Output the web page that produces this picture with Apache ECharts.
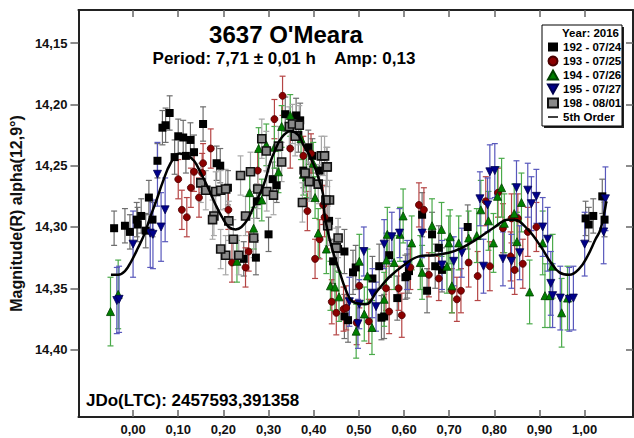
<!DOCTYPE html>
<html>
<head>
<meta charset="utf-8">
<script src="https://cdn.jsdelivr.net/npm/echarts@6/dist/echarts.min.js"></script>
<style>
  html, body { margin: 0; padding: 0; background: #fff; }
  #main { width: 634px; height: 438px; }
</style>
</head>
<body>
<div id="main"></div>
<script>
// tick labels
const xTicks = [0, 0.1, 0.2, 0.3, 0.4, 0.5, 0.6, 0.7, 0.8, 0.9, 1.0];
const yTicks = [14.15, 14.20, 14.25, 14.30, 14.35, 14.40];

// [phase, magnitude, error]
const d192 = [
  [0.081, 14.207, 0.014], [0.072, 14.217, 0.014], [0.065, 14.219, 0.014], [0.100, 14.226, 0.014],
  [0.111, 14.227, 0.014], [0.127, 14.229, 0.014], [0.155, 14.216, 0.014], [0.054, 14.246, 0.014],
  [0.092, 14.243, 0.014], [0.117, 14.242, 0.014], [0.135, 14.239, 0.014], [0.185, 14.248, 0.014],
  [0.193, 14.250, 0.014], [0.035, 14.276, 0.014], [0.018, 14.291, 0.014], [0.008, 14.294, 0.014],
  [0.010, 14.298, 0.014], [0.028, 14.303, 0.014], [0.043, 14.294, 0.014], [-0.042, 14.301, 0.014],
  [-0.018, 14.299, 0.014], [-0.007, 14.304, 0.014], [0.300, 14.306, 0.014], [0.272, 14.325, 0.014],
  [0.245, 14.326, 0.014], [0.337, 14.208, 0.014], [0.361, 14.209, 0.014], [0.370, 14.213, 0.014],
  [0.366, 14.225, 0.014], [0.388, 14.235, 0.014], [0.397, 14.242, 0.014], [0.377, 14.254, 0.014],
  [0.413, 14.254, 0.014], [0.394, 14.263, 0.014], [0.309, 14.261, 0.014], [0.318, 14.266, 0.014],
  [0.210, 14.268, 0.014], [0.274, 14.279, 0.014], [0.434, 14.295, 0.016], [0.454, 14.318, 0.018],
  [0.468, 14.320, 0.018], [0.443, 14.328, 0.018], [0.487, 14.337, 0.018], [0.493, 14.333, 0.018],
  [0.530, 14.342, 0.018], [0.545, 14.332, 0.018], [0.556, 14.373, 0.018], [0.550, 14.374, 0.018],
  [0.468, 14.373, 0.018], [0.476, 14.376, 0.018], [0.585, 14.358, 0.018], [0.607, 14.340, 0.018],
  [0.611, 14.336, 0.018], [0.651, 14.352, 0.018], [0.669, 14.332, 0.018], [0.684, 14.335, 0.018],
  [0.662, 14.306, 0.018], [0.567, 14.323, 0.018], [0.603, 14.341, 0.018], [0.677, 14.317, 0.018],
  [0.640, 14.290, 0.018], [0.741, 14.300, 0.018], [1.039, 14.275, 0.014], [1.019, 14.291, 0.014],
  [1.002, 14.293, 0.014], [1.009, 14.298, 0.014], [1.044, 14.294, 0.014]
];
const d193 = [
  [0.172, 14.236, 0.016], [0.155, 14.248, 0.016], [0.135, 14.255, 0.016], [0.153, 14.256, 0.016],
  [0.100, 14.261, 0.016], [0.128, 14.268, 0.016], [0.146, 14.276, 0.016], [0.108, 14.286, 0.016],
  [0.119, 14.292, 0.016], [0.331, 14.193, 0.016], [0.313, 14.212, 0.016], [0.276, 14.254, 0.016],
  [0.348, 14.236, 0.016], [0.377, 14.242, 0.016], [0.394, 14.240, 0.016], [0.211, 14.286, 0.016],
  [0.386, 14.287, 0.016], [0.421, 14.282, 0.016], [0.424, 14.292, 0.016], [0.413, 14.310, 0.016],
  [0.403, 14.326, 0.016], [0.256, 14.320, 0.016], [0.249, 14.333, 0.016], [0.219, 14.329, 0.016],
  [0.440, 14.361, 0.018], [0.450, 14.370, 0.018], [0.466, 14.367, 0.018], [0.495, 14.378, 0.018],
  [0.501, 14.348, 0.018], [0.430, 14.300, 0.018], [0.472, 14.366, 0.018], [0.522, 14.377, 0.018],
  [0.560, 14.350, 0.018], [0.567, 14.369, 0.018], [0.588, 14.350, 0.018], [0.595, 14.372, 0.018],
  [0.614, 14.333, 0.018], [0.655, 14.339, 0.018], [0.677, 14.342, 0.018], [0.706, 14.352, 0.018],
  [0.717, 14.359, 0.018], [0.726, 14.352, 0.018], [0.743, 14.329, 0.020], [0.763, 14.340, 0.020],
  [0.790, 14.332, 0.020], [0.819, 14.301, 0.020], [0.836, 14.324, 0.020], [0.845, 14.335, 0.020],
  [0.863, 14.330, 0.020], [0.633, 14.282, 0.018], [0.644, 14.286, 0.018], [0.781, 14.279, 0.020],
  [0.808, 14.272, 0.020], [0.838, 14.293, 0.020], [0.852, 14.293, 0.020], [0.874, 14.304, 0.020],
  [0.893, 14.300, 0.020]
];
const d194 = [
  [-0.050, 14.369, 0.028], [-0.033, 14.355, 0.028], [0.278, 14.236, 0.017], [0.295, 14.233, 0.017],
  [0.313, 14.235, 0.017], [0.329, 14.218, 0.017], [0.348, 14.209, 0.017], [0.372, 14.228, 0.017],
  [0.399, 14.248, 0.017], [0.322, 14.255, 0.017], [0.258, 14.272, 0.017], [0.285, 14.278, 0.017],
  [0.403, 14.276, 0.017], [0.377, 14.257, 0.017], [0.384, 14.259, 0.017], [0.267, 14.301, 0.017],
  [0.230, 14.328, 0.017], [0.428, 14.318, 0.020], [0.410, 14.305, 0.020], [0.437, 14.348, 0.020],
  [0.447, 14.349, 0.020], [0.456, 14.357, 0.020], [0.494, 14.385, 0.022], [0.501, 14.328, 0.022],
  [0.512, 14.371, 0.022], [0.529, 14.382, 0.022], [0.519, 14.340, 0.022], [0.556, 14.359, 0.022],
  [0.563, 14.306, 0.022], [0.578, 14.329, 0.022], [0.591, 14.306, 0.022], [0.617, 14.313, 0.022],
  [0.640, 14.337, 0.022], [0.683, 14.302, 0.022], [0.699, 14.313, 0.022], [0.721, 14.313, 0.022],
  [0.743, 14.309, 0.022], [0.798, 14.313, 0.024], [0.822, 14.297, 0.024], [0.878, 14.353, 0.026],
  [0.912, 14.356, 0.026], [0.923, 14.356, 0.026], [0.949, 14.370, 0.028], [0.962, 14.358, 0.026],
  [0.598, 14.291, 0.022], [0.770, 14.286, 0.024], [0.807, 14.275, 0.024], [0.816, 14.268, 0.024],
  [0.844, 14.289, 0.024], [0.860, 14.280, 0.024], [0.929, 14.332, 0.026], [0.907, 14.313, 0.026],
  [0.850, 14.312, 0.024], [0.662, 14.299, 0.022], [0.702, 14.308, 0.022], [0.761, 14.307, 0.022],
  [0.787, 14.295, 0.024], [0.561, 14.327, 0.022], [0.636, 14.329, 0.022], [0.695, 14.332, 0.022],
  [0.706, 14.348, 0.022]
];
const d195 = [
  [0.054, 14.257, 0.026], [0.071, 14.286, 0.026], [0.000, 14.314, 0.027], [0.038, 14.305, 0.028],
  [0.044, 14.306, 0.028], [0.062, 14.300, 0.028], [-0.036, 14.360, 0.027], [-0.031, 14.359, 0.027],
  [0.479, 14.361, 0.020], [0.501, 14.363, 0.020], [0.498, 14.379, 0.020], [0.511, 14.320, 0.020],
  [0.530, 14.354, 0.020], [0.538, 14.365, 0.020], [0.573, 14.308, 0.020], [0.590, 14.305, 0.020],
  [0.556, 14.314, 0.020], [0.607, 14.331, 0.020], [0.684, 14.331, 0.020], [0.710, 14.328, 0.020],
  [0.728, 14.321, 0.020], [0.776, 14.332, 0.022], [0.819, 14.326, 0.022], [0.838, 14.328, 0.022],
  [0.856, 14.321, 0.022], [0.918, 14.310, 0.026], [0.925, 14.346, 0.026], [0.929, 14.356, 0.026],
  [0.946, 14.358, 0.026], [0.966, 14.359, 0.026], [0.975, 14.358, 0.026], [1.000, 14.314, 0.026],
  [1.042, 14.304, 0.026], [0.790, 14.255, 0.022], [0.801, 14.254, 0.022], [0.768, 14.277, 0.022],
  [0.785, 14.282, 0.022], [0.849, 14.268, 0.022], [0.874, 14.270, 0.022], [0.893, 14.275, 0.022],
  [0.882, 14.281, 0.022], [0.907, 14.300, 0.024], [1.046, 14.277, 0.026], [0.640, 14.305, 0.020]
];
const d198 = [
  [0.150, 14.264, 0.016], [0.161, 14.270, 0.016], [0.183, 14.271, 0.016], [0.179, 14.291, 0.016],
  [0.194, 14.270, 0.016], [0.205, 14.269, 0.016], [0.238, 14.258, 0.016], [0.260, 14.255, 0.016],
  [0.285, 14.228, 0.016], [0.295, 14.238, 0.016], [0.322, 14.234, 0.016], [0.346, 14.218, 0.016],
  [0.353, 14.216, 0.016], [0.359, 14.226, 0.016], [0.368, 14.217, 0.016], [0.381, 14.256, 0.016],
  [0.390, 14.263, 0.016], [0.329, 14.247, 0.016], [0.417, 14.242, 0.016], [0.428, 14.251, 0.016],
  [0.410, 14.265, 0.016], [0.435, 14.278, 0.016], [0.375, 14.280, 0.016], [0.276, 14.269, 0.016],
  [0.296, 14.271, 0.016], [0.311, 14.274, 0.016], [0.249, 14.291, 0.016], [0.205, 14.323, 0.016],
  [0.234, 14.323, 0.016], [0.222, 14.310, 0.016], [0.267, 14.309, 0.016], [0.194, 14.318, 0.016],
  [0.212, 14.295, 0.016], [0.176, 14.294, 0.016], [0.454, 14.309, 0.016], [0.450, 14.317, 0.016],
  [0.431, 14.299, 0.016], [0.427, 14.278, 0.016], [0.424, 14.242, 0.016], [0.430, 14.251, 0.016]
];
// 5th order fit
const fit5 = [
  [-0.049, 14.339], [-0.033, 14.339], [-0.018, 14.336], [-0.004, 14.328], [0.011, 14.317],
  [0.026, 14.305], [0.037, 14.293], [0.051, 14.279], [0.066, 14.263], [0.083, 14.248],
  [0.103, 14.240], [0.121, 14.242], [0.135, 14.246], [0.150, 14.256], [0.166, 14.268],
  [0.183, 14.282], [0.197, 14.292], [0.212, 14.300], [0.227, 14.302], [0.240, 14.300],
  [0.255, 14.293], [0.270, 14.281], [0.289, 14.266], [0.304, 14.247], [0.315, 14.237],
  [0.329, 14.227], [0.348, 14.222], [0.366, 14.225], [0.377, 14.233], [0.390, 14.241],
  [0.403, 14.252], [0.413, 14.263], [0.421, 14.274], [0.424, 14.290], [0.438, 14.314],
  [0.454, 14.333], [0.479, 14.358], [0.493, 14.362], [0.515, 14.363], [0.541, 14.352],
  [0.567, 14.341], [0.600, 14.331], [0.633, 14.324], [0.662, 14.323], [0.699, 14.321],
  [0.728, 14.317], [0.765, 14.309], [0.801, 14.300], [0.830, 14.294], [0.844, 14.294],
  [0.874, 14.302], [0.903, 14.316], [0.925, 14.329], [0.944, 14.337], [0.966, 14.339],
  [0.988, 14.334], [1.006, 14.324], [1.024, 14.310], [1.035, 14.302], [1.048, 14.279]
];

const FONT = '"Liberation Sans", Arial, sans-serif';
const fmt = v => v.toFixed(2).replace('.', ',');

const chart = echarts.init(document.getElementById('main'), null, { renderer: 'svg' });

// error bars with caps
const errBars = (data, color) => ({
  type: 'custom',
  data: data,
  z: 1,
  encode: { x: 0, y: 1 },
  renderItem: (params, api) => {
    const x = api.value(0), y = api.value(1), e = api.value(2);
    const a = api.coord([x, y - e]);
    const b = api.coord([x, y + e]);
    const st = { stroke: color, lineWidth: 1.2 };
    return {
      type: 'group',
      children: [
        { type: 'line', shape: { x1: a[0], y1: a[1], x2: b[0], y2: b[1] }, style: st },
        { type: 'line', shape: { x1: a[0] - 3, y1: a[1], x2: a[0] + 3, y2: a[1] }, style: st },
        { type: 'line', shape: { x1: b[0] - 3, y1: b[1], x2: b[0] + 3, y2: b[1] }, style: st }
      ]
    };
  }
});

const downTri = 'path://M0,0L10,0L5,9Z';

const option = {
  animation: false,
  grid: { left: 73, top: 10, right: 1, bottom: 21 },
  xAxis: [
    {
      type: 'value', position: 'bottom', min: -0.121, max: 1.107,
      axisLine: { onZero: false, lineStyle: { color: '#222', width: 2 } },
      axisTick: { inside: true, length: 7, customValues: xTicks, lineStyle: { color: '#666', width: 1.5 } },
      axisLabel: { customValues: xTicks, formatter: fmt, margin: 6, color: '#111', fontSize: 13, fontWeight: 'bold', fontFamily: FONT },
      splitLine: { show: false }
    },
    {
      type: 'value', position: 'top', min: -0.121, max: 1.107,
      axisLine: { onZero: false, lineStyle: { color: '#222', width: 2 } },
      axisTick: { inside: true, length: 7, customValues: xTicks, lineStyle: { color: '#666', width: 1.5 } },
      axisLabel: { show: false },
      splitLine: { show: false }
    }
  ],
  yAxis: [
    {
      type: 'value', position: 'left', inverse: true, min: 14.123, max: 14.455,
      name: 'Magnitude(R) alpha(12,9°)', nameLocation: 'middle', nameGap: 48,
      nameTextStyle: { color: '#111', fontSize: 16, fontWeight: 'bold', fontFamily: FONT },
      axisLine: { onZero: false, lineStyle: { color: '#222', width: 2 } },
      axisTick: { inside: false, length: 8, customValues: yTicks, lineStyle: { color: '#666', width: 1.5 } },
      axisLabel: { customValues: yTicks, formatter: fmt, margin: 11, color: '#111', fontSize: 13, fontWeight: 'bold', fontFamily: FONT },
      splitLine: { show: false }
    },
    {
      type: 'value', position: 'right', inverse: true, min: 14.123, max: 14.455,
      axisLine: { onZero: false, lineStyle: { color: '#222', width: 2 } },
      axisTick: { inside: true, length: 7, customValues: yTicks, lineStyle: { color: '#666', width: 1.5 } },
      axisLabel: { show: false },
      splitLine: { show: false }
    }
  ],
  legend: {
    orient: 'vertical', left: 547, top: 40, padding: 0, z: 10,
    itemWidth: 10, itemHeight: 9, itemGap: 0,
    textStyle: { color: '#000', fontSize: 11.5, fontWeight: 'bold', fontFamily: FONT, lineHeight: 14 },
    data: [
      '192 - 07/24', '193 - 07/25', '194 - 07/26', '195 - 07/27', '198 - 08/01',
      { name: '5th Order', icon: 'path://M0,0H20V3H0Z', itemStyle: { color: '#000' } }
    ]
  },
  graphic: [
    { type: 'rect', z: 1, shape: { x: 544, y: 27, width: 80, height: 101 }, style: { fill: '#222' } },
    { type: 'rect', z: 2, shape: { x: 542, y: 25, width: 80, height: 101 }, style: { fill: '#fff', stroke: '#000', lineWidth: 1 } },
    { type: 'text', z: 3, x: 619, y: 33, style: { text: 'Year: 2016', align: 'right', verticalAlign: 'middle', font: 'bold 11.5px ' + FONT, fill: '#000' } },
    { type: 'text', z: 3, x: 286, y: 34, style: { text: "3637 O'Meara", align: 'center', verticalAlign: 'middle', font: 'bold 24px ' + FONT, fill: '#000' } },
    { type: 'text', z: 3, x: 284, y: 58, style: { text: 'Period: 7,71 ± 0,01 h    Amp: 0,13', align: 'center', verticalAlign: 'middle', font: 'bold 17px ' + FONT, fill: '#000' } },
    { type: 'text', z: 3, x: 86, y: 400, style: { text: 'JDo(LTC): 2457593,391358', align: 'left', verticalAlign: 'middle', font: 'bold 17px ' + FONT, fill: '#000' } }
  ],
  series: [
    errBars(d192, '#6e6e6e'),
    errBars(d193, '#b54545'),
    errBars(d194, '#4aaa4a'),
    errBars(d195, '#5858bc'),
    errBars(d198, '#a8a8a8'),
    {
      name: '192 - 07/24', type: 'scatter', data: d192, z: 3,
      symbol: 'rect', symbolSize: 8,
      itemStyle: { color: '#000', opacity: 1 }
    },
    {
      name: '193 - 07/25', type: 'scatter', data: d193, z: 3,
      symbol: 'circle', symbolSize: 7,
      itemStyle: { color: '#8b0000', borderColor: '#4a0000', borderWidth: 0.8, opacity: 1 }
    },
    {
      name: '194 - 07/26', type: 'scatter', data: d194, z: 3,
      symbol: 'triangle', symbolSize: 8,
      itemStyle: { color: '#008000', borderColor: '#004000', borderWidth: 0.8, opacity: 1 }
    },
    {
      name: '195 - 07/27', type: 'scatter', data: d195, z: 3,
      symbol: downTri, symbolSize: [8, 8],
      itemStyle: { color: '#00008b', borderColor: '#000050', borderWidth: 0.8, opacity: 1 }
    },
    {
      name: '198 - 08/01', type: 'scatter', data: d198, z: 3,
      symbol: 'rect', symbolSize: 8,
      itemStyle: { color: '#8a8a8a', borderColor: '#111', borderWidth: 1.6, opacity: 1 }
    },
    {
      name: '5th Order', type: 'line', data: fit5, z: 4,
      smooth: 0.4, symbol: 'none', showSymbol: false,
      lineStyle: { color: '#000', width: 2.5 },
      itemStyle: { color: '#000' }
    }
  ]
};
option && chart.setOption(option);
</script>
</body>
</html>
